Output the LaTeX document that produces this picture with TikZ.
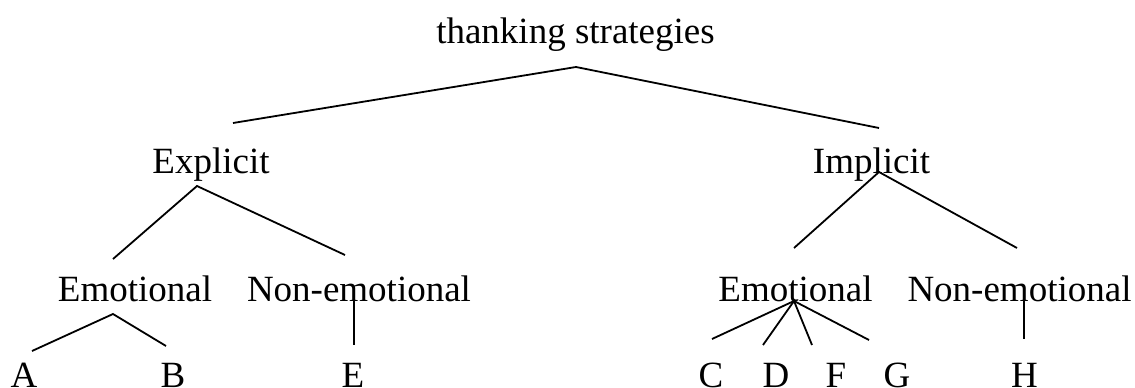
\documentclass[tikz,border=0pt]{standalone}
\usepackage{fontspec}
\setmainfont{Liberation Serif}
\begin{document}
\begin{tikzpicture}[x=1pt,y=-1pt,
  lbl/.style={anchor=base,inner sep=0pt,font=\fontsize{37}{44}\selectfont},
  edge/.style={line width=1.8pt}]
\useasboundingbox[fill=white] (0,0) rectangle (1135,388);
% labels
\node[lbl] (root) at (575.5,43) {thanking strategies};
\node[lbl] (expl) at (211,173) {Explicit};
\node[lbl] (impl) at (871.5,173) {Implicit};
\node[lbl] (emoL) at (135,301) {Emotional};
\node[lbl] (nemL) at (359,301) {Non-emotional};
\node[lbl] (emoR) at (795.5,301) {Emotional};
\node[lbl] (nemR) at (1019.5,301) {Non-emotional};
\node[lbl] (A) at (24,387) {A};
\node[lbl] (B) at (173,387) {B};
\node[lbl] (E) at (353,387) {E};
\node[lbl] (C) at (711,387) {C};
\node[lbl] (D) at (776,387) {D};
\node[lbl] (F) at (836,387) {F};
\node[lbl] (G) at (897,387) {G};
\node[lbl] (H) at (1024.5,387) {H};
% connector points
\coordinate (rootA) at (576,67);
\coordinate (explT) at (233,123);
\coordinate (implT) at (879,128);
\coordinate (explA) at (197,186);
\coordinate (emoLT) at (113,259);
\coordinate (nemLT) at (345,255);
\coordinate (implA) at (879,172);
\coordinate (emoRT) at (794,248);
\coordinate (nemRT) at (1017,248);
\coordinate (emoLA) at (113,314);
\coordinate (AT) at (32,351);
\coordinate (BT) at (166,346);
\coordinate (nemLA) at (354,300);
\coordinate (ET) at (354,345);
\coordinate (emoRA) at (794,301);
\coordinate (CT) at (712,339);
\coordinate (DT) at (763,345);
\coordinate (FT) at (812,345);
\coordinate (GT) at (869,340);
\coordinate (nemRA) at (1024,300);
\coordinate (HT) at (1024,339);
% connectors
\draw[edge] (explT) -- (rootA) -- (implT);
\draw[edge] (emoLT) -- (explA) -- (nemLT);
\draw[edge] (emoRT) -- (implA) -- (nemRT);
\draw[edge] (AT) -- (emoLA) -- (BT);
\draw[edge] (nemLA) -- (ET);
\draw[edge] (CT) -- (emoRA) -- (GT);
\draw[edge] (DT) -- (emoRA) -- (FT);
\draw[edge] (nemRA) -- (HT);
\end{tikzpicture}
\end{document}
